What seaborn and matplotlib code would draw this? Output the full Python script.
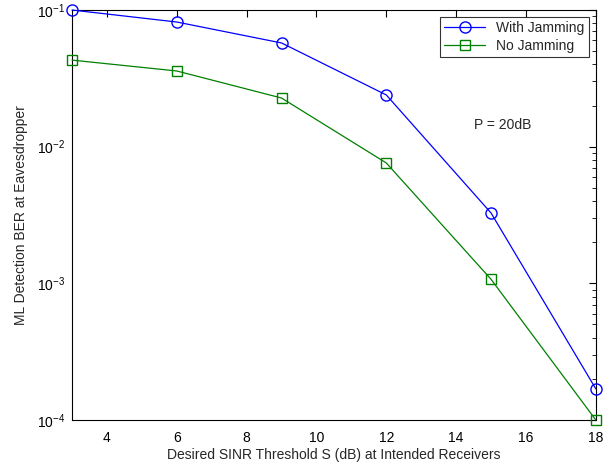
import numpy as np
import pandas as pd
import matplotlib
matplotlib.use("Agg")
import matplotlib.pyplot as plt
import seaborn as sns
from matplotlib.ticker import LogLocator, NullFormatter

# data
sinr_db = [3, 6, 9, 12, 15, 18]
ber_jam = [0.100, 0.0817, 0.0574, 0.0239, 0.00327, 0.000169]
ber_nojam = [0.0430, 0.0358, 0.0227, 0.0076, 0.00107, 0.000100]
series_names = ["With Jamming", "No Jamming"]

df = pd.DataFrame({
    "S": sinr_db * 2,
    "BER": ber_jam + ber_nojam,
    "case": [series_names[0]] * len(sinr_db) + [series_names[1]] * len(sinr_db),
})

sns.set_theme(style="white")
plt.rcParams["font.family"] = ["Liberation Sans", "DejaVu Sans"]

fig = plt.figure(figsize=(6.13, 4.66), dpi=100)
ax = fig.add_axes([0.1175, 0.0987, 0.8545, 0.8798])

palette = {series_names[0]: "#0000ff", series_names[1]: "#008000"}
markers = {series_names[0]: "o", series_names[1]: "s"}
sns.lineplot(data=df, x="S", y="BER", hue="case", style="case",
             palette=palette, markers=markers, dashes=False,
             markersize=8, markeredgewidth=1.0,
             linewidth=0.9, ax=ax, legend=False)

# open markers in line colour (seaborn defaults to white edges)
for ln in ax.lines:
    ln.set_markerfacecolor("none")
    ln.set_markeredgecolor(ln.get_color())
    ln.set_clip_on(False)
    ln.set_zorder(3)
    if ln.get_marker() == "s":
        ln.set_markersize(6.5)

ax.set_yscale("log")
ax.set_xlim(3, 18)
ax.set_ylim(1e-4, 1e-1)
ax.set_xticks([4, 6, 8, 10, 12, 14, 16, 18])
ax.yaxis.set_major_locator(LogLocator(base=10, numticks=10))
ax.yaxis.set_minor_locator(LogLocator(base=10, subs=np.arange(2, 10), numticks=10))
ax.yaxis.set_minor_formatter(NullFormatter())

ax.tick_params(which="both", direction="in", top=True, right=True,
               labelsize=10, colors="black")
ax.tick_params(axis="x", pad=8)
ax.tick_params(axis="y", pad=5)
ax.tick_params(which="major", length=5, width=0.8)
ax.tick_params(which="minor", length=3, width=0.6)
for sp in ax.spines.values():
    sp.set_color("black")
    sp.set_linewidth(0.8)

ax.set_xlabel("Desired SINR Threshold S (dB) at Intended Receivers", fontsize=10, labelpad=2)
ax.set_ylabel("ML Detection BER at Eavesdropper", fontsize=10, labelpad=6)

ax.text(14.5, 0.0144, "P = 20dB", fontsize=10, va="center", ha="left")

leg = ax.legend(handles=ax.lines[:2], labels=series_names, loc="upper right",
                fontsize=10, frameon=True, fancybox=False, edgecolor="black",
                borderpad=0.3, handlelength=3.0, borderaxespad=0.5,
                labelspacing=0.3)
leg.get_frame().set_linewidth(0.8)

fig.savefig("out.png", dpi=100)
